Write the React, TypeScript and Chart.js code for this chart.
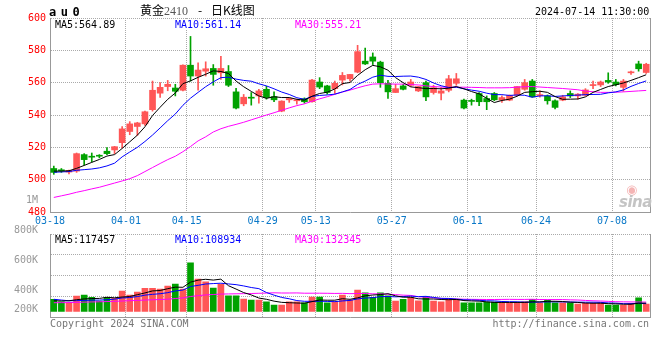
import React, { useEffect, useRef } from 'react';
import { Chart, registerables } from 'chart.js';

Chart.register(...registerables);

// ---------------- data ----------------
const dates = [
  '03-18','03-19','03-20','03-21','03-22','03-25','03-26','03-27','03-28','03-29',
  '04-01','04-02','04-03','04-08','04-09','04-10','04-11','04-12','04-15','04-16',
  '04-17','04-18','04-19','04-22','04-23','04-24','04-25','04-26','04-29','04-30',
  '05-06','05-07','05-08','05-09','05-10','05-13','05-14','05-15','05-16','05-17',
  '05-20','05-21','05-22','05-23','05-24','05-27','05-28','05-29','05-30','05-31',
  '06-03','06-04','06-05','06-06','06-07','06-11','06-12','06-13','06-14','06-17',
  '06-18','06-19','06-20','06-21','06-24','06-25','06-26','06-27','06-28','07-01',
  '07-02','07-03','07-04','07-05','07-08','07-09','07-10','07-11','07-12'
];
const xTickLabels = ['03-18','04-01','04-15','04-29','05-13','05-27','06-11','06-24','07-08'];

const opens = [
  506.9,505.9,504.7,505.3,515.5,514.3,514.9,517.6,518.4,522.9,
  529.8,532.9,534.5,543.3,553.5,557.6,556.7,555.3,570.8,564.1,
  567.1,568.8,566.1,566.9,554.3,546.9,550.8,551.8,555.9,551.4,
  542.4,549.4,548.8,550.0,548.2,560.4,558.0,556.3,561.6,562.4,
  566.5,573.3,575.9,572.7,559.6,553.9,558.0,558.4,554.9,560.0,
  553.9,553.5,555.3,559.6,549.2,548.8,553.3,550.2,553.3,549.2,
  549.2,552.2,555.9,561.0,552.0,551.8,548.8,549.2,553.3,551.8,
  552.2,558.2,558.6,561.4,560.4,557.1,566.1,571.6,566.3
];
const highs = [
  508.4,506.9,505.9,516.5,516.1,516.5,515.5,519.8,520.6,532.9,
  535.9,535.5,542.4,561.0,560.0,561.4,559.0,571.0,588.6,572.2,
  572.9,571.2,576.3,570.6,556.5,552.7,553.9,555.9,557.8,554.3,
  548.8,550.6,549.8,550.6,562.0,563.1,558.4,561.0,566.3,565.1,
  583.1,581.4,578.4,573.3,561.4,559.0,559.0,562.0,557.8,561.0,
  558.4,556.9,564.5,565.7,549.8,549.8,553.9,551.8,553.9,551.8,
  552.4,557.6,562.0,562.0,554.9,552.4,549.4,552.2,554.9,553.3,
  556.3,561.0,561.0,566.1,562.0,562.0,567.1,573.3,572.0
];
const lows = [
  503.3,504.5,503.6,504.5,509.0,511.0,513.5,515.5,516.1,519.6,
  527.8,527.3,533.5,542.4,550.8,555.0,551.8,554.9,561.0,555.3,
  564.1,558.4,562.0,557.6,543.7,545.7,546.1,547.3,549.8,548.2,
  542.0,547.8,546.7,547.3,548.0,556.3,552.9,553.3,558.6,561.0,
  566.1,571.2,571.2,557.1,550.2,553.9,555.5,557.6,554.5,548.8,
  552.9,549.4,554.3,558.4,543.7,546.1,545.7,543.3,548.8,547.8,
  548.8,551.8,555.3,551.0,551.0,546.7,543.7,548.8,550.8,549.8,
  551.8,556.3,557.6,559.6,558.0,554.7,565.1,567.1,565.7
];
const closes = [
  504.5,505.5,505.7,516.1,512.4,513.9,514.5,516.1,520.4,531.4,
  534.5,535.1,542.0,555.3,557.1,559.0,554.7,570.8,564.1,567.8,
  568.6,565.1,568.8,558.4,544.3,551.0,550.4,554.9,550.8,549.4,
  548.6,550.2,549.4,548.2,561.6,557.3,553.9,559.6,564.5,565.1,
  579.2,571.6,573.3,560.0,554.3,556.3,555.9,560.4,557.6,551.2,
  556.9,554.9,562.4,562.4,544.3,548.4,548.2,548.2,549.4,550.8,
  552.2,557.6,560.0,551.2,552.4,548.8,544.7,551.2,551.8,552.9,
  555.5,558.6,560.4,560.4,558.8,561.0,566.5,568.6,571.4
];
const ma5 = [
  505.3,505.3,505.5,507.0,508.8,510.7,512.5,514.6,515.5,519.3,
  523.4,527.5,532.7,539.7,544.8,549.7,553.6,559.4,561.1,563.3,
  565.2,567.3,566.9,565.7,561.0,557.5,554.6,551.8,550.3,551.3,
  550.8,550.8,549.7,549.2,551.6,553.3,554.1,556.1,559.4,560.1,
  564.5,568.0,570.7,569.8,567.7,563.1,560.0,557.4,556.9,556.3,
  556.4,556.2,556.6,557.6,556.2,554.5,553.1,550.3,547.7,549.0,
  549.8,551.6,554.0,554.4,554.7,554.0,551.4,549.7,549.8,549.9,
  551.2,554.0,555.8,557.6,558.7,559.8,561.4,563.1,564.9
];
const ma10 = [
  504.6,504.8,505.0,505.8,506.2,506.6,507.3,508.5,510.2,514.1,
  517.1,520.0,523.6,527.6,532.0,536.5,540.6,546.0,550.4,554.0,
  557.5,560.5,563.1,563.4,562.2,561.4,560.9,559.3,558.0,556.2,
  554.2,552.7,550.7,549.7,551.5,552.1,552.4,552.9,554.3,555.8,
  558.9,561.0,563.4,564.6,563.9,563.8,564.0,564.1,563.4,562.0,
  559.8,558.1,557.0,557.2,556.2,555.4,554.7,553.5,552.6,552.6,
  552.1,552.4,552.2,551.0,551.8,551.9,551.5,551.8,552.1,552.3,
  552.6,552.7,552.8,553.7,554.3,555.5,557.7,559.5,561.1
];
const ma30 = [
  489.0,490.0,491.0,492.2,493.2,494.3,495.3,496.6,497.9,499.2,
  500.6,502.5,505.0,507.5,510.0,512.4,514.5,517.3,520.5,524.0,
  526.5,529.5,531.5,533.0,534.2,535.5,537.0,538.5,540.0,541.4,
  542.9,544.4,545.8,546.9,548.5,550.0,551.3,552.8,554.2,555.4,
  556.8,558.1,559.1,559.3,559.2,559.1,559.1,558.8,558.6,558.0,
  557.6,557.3,557.1,557.2,557.2,557.1,557.0,556.8,556.8,556.8,
  556.9,557.2,557.5,557.6,557.3,557.0,556.7,556.4,556.0,555.6,
  554.8,554.4,554.0,554.0,554.1,554.3,554.6,554.9,555.2
];

// volume, in thousands of lots
const volumesK = [
  171,137,123,217,231,199,147,199,185,287,
  231,273,325,325,315,357,385,315,683,455,
  417,329,381,221,221,175,161,161,137,91,
  91,137,137,123,203,203,123,137,231,161,
  301,263,199,263,221,147,171,199,151,207,
  147,137,185,171,123,123,123,133,133,123,
  123,123,137,171,123,161,123,123,123,105,
  115,115,123,91,91,91,115,193,105
];
const volMa5K = [
  150,148,150,165,176,181,183,199,192,203,
  210,235,260,288,294,319,341,339,411,439,
  451,440,453,361,314,265,232,188,171,145,
  128,123,119,116,138,161,158,158,179,171,
  191,219,231,237,249,219,200,200,178,175,
  175,168,165,169,153,148,145,135,127,127,
  127,127,128,135,135,143,143,140,131,127,
  118,116,116,110,107,102,102,116,117
];
const volMa10K = [
  171,160,150,152,155,158,160,165,172,190,
  196,209,229,240,249,264,288,300,350,366,
  385,391,396,386,376,358,336,320,266,229,
  197,178,153,143,142,144,141,138,148,155,
  176,188,194,208,210,205,209,216,208,212,
  197,184,183,174,164,161,157,150,148,140,
  137,136,131,131,131,135,135,134,133,131,
  130,130,128,120,117,110,109,116,109
];
const volMa30K = [
  123,124,125,128,131,134,136,139,142,147,
  151,155,160,164,168,172,182,190,210,222,
  232,238,244,246,248,250,252,255,258,262,
  259,259,260,256,256,256,255,253,254,250,
  252,252,248,246,243,236,229,225,207,199,
  190,183,177,175,172,170,169,168,168,169,
  170,169,169,171,168,167,167,167,163,161,
  155,150,147,142,137,135,134,133,132
];

const priceMin = 480;
const priceMax = 600;
const priceStep = 20;
const volTickLabels = ['1M', '800K', '600K', '400K', '200K'];
const volTickValuesK = [1000, 800, 600, 400, 200];

// ---------------- styling / layout ----------------
const UP = '#ff5656';
const DOWN = '#00a200';
const GRID = '#aaaaaa';
const FRAME = '#999999';
const MONO = '"DejaVu Sans Mono", monospace';
const SLOT = 600 / dates.length;

// chart B (volume) geometry, canvas coords
const B_H = 130;
const B_TOP = 44;
const B_BOTTOM = 127.5;
const VOL_ZERO_Y = 121.5;
const VOL_PX_K = 14;
const VOL_MAX = (VOL_ZERO_Y - B_TOP) * VOL_PX_K;
const VOL_MIN = -(B_BOTTOM - VOL_ZERO_Y) * VOL_PX_K;
// label axis for the volume panel (Sina places these labels on its own spacing)
const LBL_Y800 = 40.7;
const LBL_PX_200 = 30;
const lblVal = (p: number) => 800 - ((p - LBL_Y800) / LBL_PX_200) * 200;
const LBL_MAX = lblVal(B_TOP);
const LBL_MIN = lblVal(B_BOTTOM);
const LBL_FLOOR = lblVal(119.3);

const candleColors = closes.map((c, i) => (c >= opens[i] ? UP : DOWN));

const gridColorX = (ctx: any) =>
  ctx.index !== undefined && ctx.index > 0 && xTickLabels.includes(dates[ctx.index])
    ? GRID
    : 'rgba(0,0,0,0)';

const noPad = (s: any) => {
  s.paddingTop = 0;
  s.paddingBottom = 0;
  s.paddingLeft = 0;
  s.paddingRight = 0;
};

const lineDs = (label: string, data: number[], color: string, yAxisID = 'y') => ({
  type: 'line' as const,
  label,
  data,
  borderColor: color,
  borderWidth: 1,
  pointRadius: 0,
  fill: false,
  tension: 0,
  order: 0,
  yAxisID,
});

const rightFrame = {
  type: 'linear' as const,
  position: 'right' as const,
  display: true,
  ticks: { display: false },
  grid: { display: false },
  border: { display: true, color: FRAME },
  afterFit: (s: any) => { s.width = 0; noPad(s); },
};

const txt = (extra: any): any => ({
  position: 'absolute',
  whiteSpace: 'nowrap',
  font: `10px ${MONO}`,
  lineHeight: '12px',
  margin: 0,
  ...extra,
});

export default function App() {
  const refA = useRef<HTMLCanvasElement>(null);
  const refB = useRef<HTMLCanvasElement>(null);

  useEffect(() => {
    const a = new Chart(refA.current as HTMLCanvasElement, {
      type: 'bar',
      data: {
        labels: dates,
        datasets: [
          lineDs('MA5', ma5, '#000000'),
          lineDs('MA10', ma10, '#0000ff'),
          lineDs('MA30', ma30, '#ff00ff'),
          {
            type: 'bar',
            label: 'body',
            data: dates.map((_, i) => [opens[i], closes[i]]),
            backgroundColor: candleColors,
            barThickness: 6,
            grouped: false,
            minBarLength: 1,
            order: 1,
          } as any,
          {
            type: 'bar',
            label: 'wick',
            data: dates.map((_, i) => [lows[i], highs[i]]),
            backgroundColor: candleColors,
            barThickness: 1,
            grouped: false,
            order: 2,
          } as any,
        ],
      },
      options: {
        responsive: false,
        animation: false,
        events: [],
        layout: { padding: { top: 18, right: 10, bottom: 0, left: 0 } },
        plugins: { legend: { display: false }, tooltip: { enabled: false }, title: { display: false } },
        scales: {
          x: {
            type: 'category',
            offset: true,
            grid: { offset: true, drawTicks: false, color: gridColorX, lineWidth: 1 },
            border: { display: true, color: FRAME, dash: [1, 1] },
            ticks: {
              autoSkip: false,
              maxRotation: 0,
              minRotation: 0,
              padding: 3,
              labelOffset: -SLOT / 2,
              color: '#0a78c8',
              font: { family: MONO, size: 10 },
              callback: (_v: any, i: number) => (xTickLabels.includes(dates[i]) ? dates[i] : ''),
            },
            afterFit: (s: any) => { s.height = 18; noPad(s); },
          },
          y: {
            type: 'linear',
            position: 'left',
            min: priceMin,
            max: priceMax,
            ticks: { stepSize: priceStep, color: '#ff0000', font: { family: MONO, size: 10 }, padding: 4 },
            grid: { color: GRID, drawTicks: false },
            border: { display: true, color: FRAME, dash: [1, 1] },
            afterFit: (s: any) => { s.width = 50; noPad(s); },
          },
          yr: rightFrame as any,
        },
      } as any,
    });

    const b = new Chart(refB.current as HTMLCanvasElement, {
      type: 'bar',
      data: {
        labels: dates,
        datasets: [
          lineDs('VMA5', volMa5K, '#000000'),
          lineDs('VMA10', volMa10K, '#0000ff'),
          lineDs('VMA30', volMa30K, '#ff00ff'),
          {
            type: 'bar',
            label: 'volume',
            data: volumesK,
            backgroundColor: candleColors,
            barThickness: 6,
            order: 1,
          } as any,
        ],
      },
      options: {
        responsive: false,
        animation: false,
        events: [],
        layout: { padding: { top: B_TOP, right: 10, bottom: B_H - B_BOTTOM, left: 0 } },
        plugins: { legend: { display: false }, tooltip: { enabled: false }, title: { display: false } },
        scales: {
          x: {
            type: 'category',
            offset: true,
            grid: { offset: true, drawTicks: false, color: gridColorX, lineWidth: 1 },
            border: { display: true, color: FRAME, dash: [1, 1] },
            ticks: { display: false },
            afterFit: (s: any) => { s.height = 0; noPad(s); },
          },
          y: {
            type: 'linear',
            position: 'left',
            weight: 0,
            min: VOL_MIN,
            max: VOL_MAX,
            ticks: { display: false },
            grid: { color: GRID, drawTicks: false },
            border: { display: true, color: FRAME, dash: [1, 1] },
            afterBuildTicks: (s: any) => {
              s.ticks = [0, 1, 2, 3, 4].map((k) => ({ value: VOL_MIN + ((VOL_MAX - VOL_MIN) * k) / 4 }));
            },
            afterFit: (s: any) => { s.width = 0; noPad(s); },
          },
          yl: {
            type: 'linear',
            position: 'left',
            weight: 1,
            min: LBL_MIN,
            max: LBL_MAX,
            grid: { display: false },
            border: { display: false },
            ticks: {
              autoSkip: false,
              color: '#999999',
              font: { family: MONO, size: 10 },
              padding: 4,
              callback: (_v: any, i: number) => volTickLabels[i],
            },
            afterBuildTicks: (s: any) => {
              s.ticks = volTickValuesK.map((v) => ({ value: Math.max(v, LBL_FLOOR) }));
            },
            afterFit: (s: any) => { s.width = 50; noPad(s); },
          },
          yr: rightFrame as any,
        },
      } as any,
    });

    return () => {
      a.destroy();
      b.destroy();
    };
  }, []);

  return (
    <div style={{ position: 'absolute', left: 0, top: 0, width: 660, height: 360, background: '#ffffff', overflow: 'hidden' }}>
      <canvas ref={refA} width={660} height={230} style={{ position: 'absolute', left: 0, top: 0, display: 'block' }} />
      <canvas ref={refB} width={660} height={B_H} style={{ position: 'absolute', left: 0, top: 190, display: 'block' }} />

      <span style={txt({ left: 49, top: 5, font: `bold 12px ${MONO}`, letterSpacing: '4.5px', lineHeight: '14px', color: '#000' })}>au0</span>
      <span style={txt({ left: 140, top: 3, font: '12px "Noto Sans CJK SC", sans-serif', lineHeight: '14px', color: '#000' })}>
        黄金<span style={{ font: '12px "Liberation Serif", serif', color: '#555' }}>2410</span>
      </span>
      <span style={txt({ left: 198, top: 3, font: '12px "Noto Sans CJK SC", sans-serif', lineHeight: '14px', color: '#000' })}>-</span>
      <span style={txt({ left: 211, top: 3, font: '12px "Noto Sans CJK SC", sans-serif', lineHeight: '14px', color: '#000' })}>日K线图</span>
      <span style={txt({ left: 535, top: 6, color: '#000' })}>2024-07-14 11:30:00</span>

      <span style={txt({ left: 55, top: 20, lineHeight: '10px', background: '#fff', color: '#000' })}>MA5:564.89</span>
      <span style={txt({ left: 175, top: 20, lineHeight: '10px', background: '#fff', color: '#0000ff' })}>MA10:561.14</span>
      <span style={txt({ left: 295, top: 20, lineHeight: '10px', background: '#fff', color: '#ff00ff' })}>MA30:555.21</span>

      <span style={txt({ left: 55, top: 235, lineHeight: '10px', background: '#fff', color: '#000' })}>MA5:117457</span>
      <span style={txt({ left: 175, top: 235, lineHeight: '10px', background: '#fff', color: '#0000ff' })}>MA10:108934</span>
      <span style={txt({ left: 295, top: 235, lineHeight: '10px', background: '#fff', color: '#ff00ff' })}>MA30:132345</span>

      <span style={txt({ left: 50, top: 318, color: '#777' })}>Copyright 2024 SINA.COM</span>
      <span style={txt({ right: 11, top: 318, color: '#777' })}>http://finance.sina.com.cn</span>

      <span style={txt({ left: 626, top: 183, font: '13px "DejaVu Sans", sans-serif', lineHeight: '14px', color: '#f5b5b5' })}>◉</span>
      <span style={txt({ left: 619, top: 194, font: 'italic bold 15px "DejaVu Sans", sans-serif', lineHeight: '16px', color: '#c4c4c4', letterSpacing: '-0.5px' })}>sina</span>
    </div>
  );
}
